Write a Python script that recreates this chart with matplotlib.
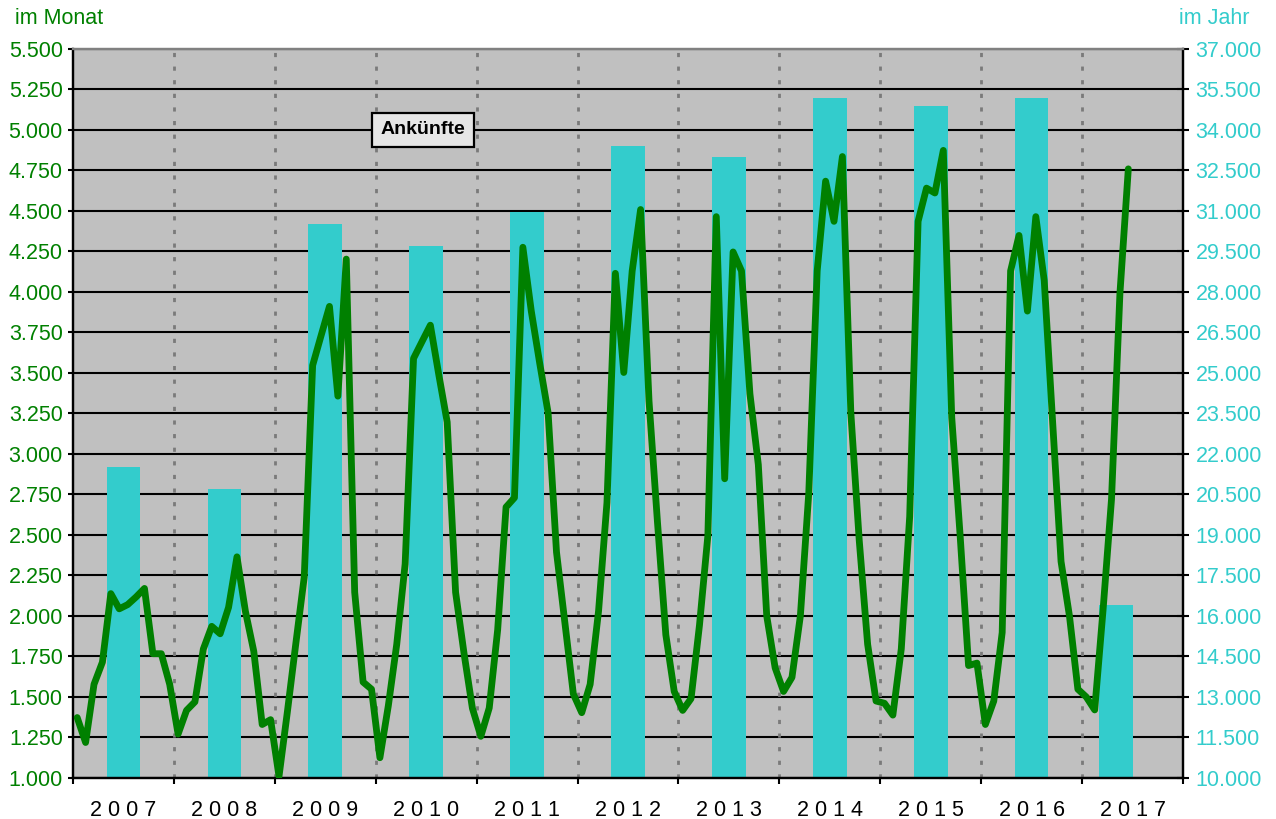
import matplotlib
matplotlib.use("Agg")
import matplotlib.pyplot as plt
import numpy as np

plt.rcParams['font.family'] = ['Liberation Sans', 'DejaVu Sans']
plt.rcParams['lines.scale_dashes'] = False

# Ankuenfte im Monat (monthly arrivals), Jan 2007 - Jun 2017
years = ['2007', '2008', '2009', '2010', '2011', '2012', '2013', '2014', '2015', '2016', '2017']
m2007 = [1373, 1219, 1578, 1715, 2138, 2044, 2070, 2117, 2170, 1767, 1767, 1578]
m2008 = [1271, 1417, 1470, 1796, 1936, 1890, 2053, 2365, 2030, 1782, 1330, 1360]
m2009 = [1010, 1410, 1830, 2240, 3547, 3730, 3911, 3357, 4203, 2146, 1592, 1548]
m2010 = [1125, 1446, 1825, 2321, 3590, 3693, 3795, 3490, 3197, 2146, 1770, 1430]
m2011 = [1257, 1432, 1913, 2672, 2730, 4276, 3882, 3561, 3255, 2394, 1957, 1519]
m2012 = [1403, 1578, 2030, 2700, 4115, 3503, 4130, 4509, 3328, 2584, 1884, 1534]
m2013 = [1417, 1490, 1942, 2496, 4465, 2847, 4247, 4130, 3372, 2934, 2000, 1680]
m2014 = [1534, 1621, 2000, 2759, 4130, 4684, 4436, 4836, 3255, 2467, 1825, 1475]
m2015 = [1461, 1388, 1796, 2613, 4436, 4641, 4611, 4874, 3226, 2496, 1694, 1709]
m2016 = [1330, 1475, 1898, 4130, 4349, 3882, 4465, 4071, 3197, 2336, 2000, 1548]
m2017 = [1500, 1420, 2040, 2720, 3990, 4760]

# Ankuenfte im Jahr (yearly totals)
yearly = [21500, 20700, 30500, 29700, 30950, 33400, 33000, 35200, 34900, 35200, 16400]

monthly = m2007 + m2008 + m2009 + m2010 + m2011 + m2012 + m2013 + m2014 + m2015 + m2016 + m2017

green = '#008000'
cyan = '#33CCCC'


def de_fmt(v, pos=None):
    return f"{v:,.0f}".replace(",", ".")


fig = plt.figure(figsize=(12.76, 8.19), dpi=100)
ax = fig.add_axes([0.0572, 0.0501, 0.8699, 0.8901])
ax2 = ax.twinx()
ax.set_zorder(ax2.get_zorder() + 1)
ax.patch.set_visible(False)
ax2.patch.set_visible(True)
ax2.set_facecolor('#C0C0C0')

n_years = len(years)
xmax = n_years * 12 - 0.5

# yearly bars (right axis) - last year is only partial, bar sits a bit left
bar_x = [12 * k + 5.5 for k in range(n_years - 1)] + [12 * (n_years - 1) + 3.55]
ax2.bar(bar_x, yearly, width=4.0, color=cyan, zorder=2)

# year separators
for k in range(1, n_years):
    ax2.axvline(12 * k - 0.5, color='#7a7a7a', lw=2.0, linestyle=(0, (3.0, 6.8)), zorder=1)

ax2.set_ylim(10000, 37000)
ax2.set_yticks(np.arange(10000, 37001, 1500))
ax2.yaxis.set_major_formatter(plt.FuncFormatter(de_fmt))
ax2.yaxis.grid(True, color='black', lw=1.5)
ax2.set_axisbelow(True)
ax2.tick_params(axis='y', colors='black', labelcolor=cyan, labelsize=15.5,
                direction='inout', length=8.3, width=1.5, pad=5)

# monthly line (left axis)
ax.plot(np.arange(len(monthly)), monthly, color=green, lw=4.9,
        solid_joinstyle='round', solid_capstyle='round', zorder=3)

ax.set_xlim(-0.5, xmax)
ax.set_ylim(1000, 5500)
ax.set_yticks(np.arange(1000, 5501, 250))
ax.yaxis.set_major_formatter(plt.FuncFormatter(de_fmt))
ax.tick_params(axis='y', colors='black', labelcolor=green, labelsize=15.5,
               direction='out', length=3.8, width=1.5, pad=3.5)

ax.set_xticks(np.arange(-0.5, xmax + 1, 12))
ax.set_xticks([12 * k + 5.5 for k in range(n_years)], minor=True)
ax.set_xticklabels([' '.join(y) for y in years], minor=True)
ax.tick_params(axis='x', which='major', labelbottom=False, direction='out',
               length=4.5, width=1.5, color='black')
ax.tick_params(axis='x', which='minor', length=0, pad=16, labelsize=15.5)

for a in (ax, ax2):
    for s in ('left', 'right', 'bottom'):
        a.spines[s].set_color('black')
        a.spines[s].set_linewidth(1.6)
    a.spines['top'].set_color('#808080')
    a.spines['top'].set_linewidth(1.6)

ax.text(0.315, 0.889, 'Ankünfte', transform=ax.transAxes, ha='center', va='center',
        fontsize=14, fontweight='bold', zorder=5,
        bbox=dict(boxstyle='square,pad=0.45', fc='#E6E6E6', ec='black', lw=1.6))

fig.text(0.0118, 0.978, 'im Monat', color=green, fontsize=15.5, ha='left', va='center')
fig.text(0.979, 0.978, 'im Jahr', color=cyan, fontsize=15.5, ha='right', va='center')

fig.savefig('out.png', dpi=100)
